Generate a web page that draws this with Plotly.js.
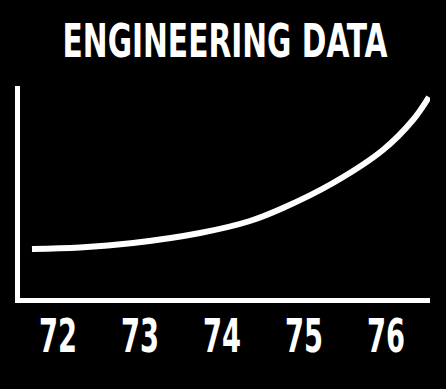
<!DOCTYPE html>
<html>
<head>
<meta charset="utf-8">
<script src="https://cdn.plot.ly/plotly-3.0.1.min.js"></script>
<style>
html,body{margin:0;padding:0;background:#000;}
#chart{width:446px;height:389px;}
svg text{font-stretch:condensed !important;}
</style>
</head>
<body>
<div id="chart"></div>
<script>
// Data (year vs. relative value)
const years = [71.683, 72.268, 72.915, 73.732, 74.341, 74.744, 75.354, 75.963, 76.329, 76.524];
const values = [49, 50.5, 55, 65, 77, 90, 115, 148, 178, 201];
const tickYears = [72, 73, 74, 75, 76];
const tickLabels = ['72', '73', '74', '75', '76'];
const titleText = 'ENGINEERING DATA';

const fontFam = '"DejaVu Sans", sans-serif';

const trace = {
  x: years, y: values, type: 'scatter', mode: 'lines',
  line: {color: '#ffffff', width: 6, shape: 'spline', smoothing: 1.0},
  hoverinfo: 'skip'
};

const layout = {
  width: 446, height: 389,
  paper_bgcolor: '#000000', plot_bgcolor: '#000000',
  margin: {l: 20, r: 16, t: 86, b: 91},
  showlegend: false,
  title: {
    text: titleText, x: 0.5, xanchor: 'center', y: 1 - 41/389, yanchor: 'middle',
    yref: 'container', xref: 'paper',
    font: {family: fontFam, size: 46, color: '#ffffff', weight: 'bold'}
  },
  xaxis: {
    range: [71.537, 76.537], showgrid: false, zeroline: false,
    showline: true, linecolor: '#ffffff', linewidth: 5,
    tickvals: tickYears, ticktext: tickLabels, ticks: '',
    ticklabelstandoff: 0,
    tickfont: {family: fontFam, size: 46, color: '#ffffff', weight: 'bold'}
  },
  yaxis: {
    range: [0, 212], showgrid: false, zeroline: false,
    showline: true, linecolor: '#ffffff', linewidth: 5,
    showticklabels: false, ticks: ''
  }
};

Plotly.newPlot('chart', [trace], layout, {staticPlot: true, displayModeBar: false}).then(function (gd) {
  // narrow the title to the condensed look of the slide
  const t = gd.querySelector('.gtitle');
  if (t) {
    const bb = t.getBBox();
    const cx = bb.x + bb.width / 2;
    const s = 325 / bb.width;
    t.setAttribute('transform', 'translate(' + cx + ',0) scale(' + s + ',1) translate(' + (-cx) + ',0)');
  }
  gd.querySelectorAll('.xtick text').forEach(function (el) {
    const bb = el.getBBox();
    const cx = bb.x + bb.width / 2;
    const s = 38 / bb.width;
    const old = el.getAttribute('transform') || '';
    el.setAttribute('transform', old + ' translate(' + cx + ',-6) scale(' + s + ',1) translate(' + (-cx) + ',0)');
  });
});
</script>
</body>
</html>
